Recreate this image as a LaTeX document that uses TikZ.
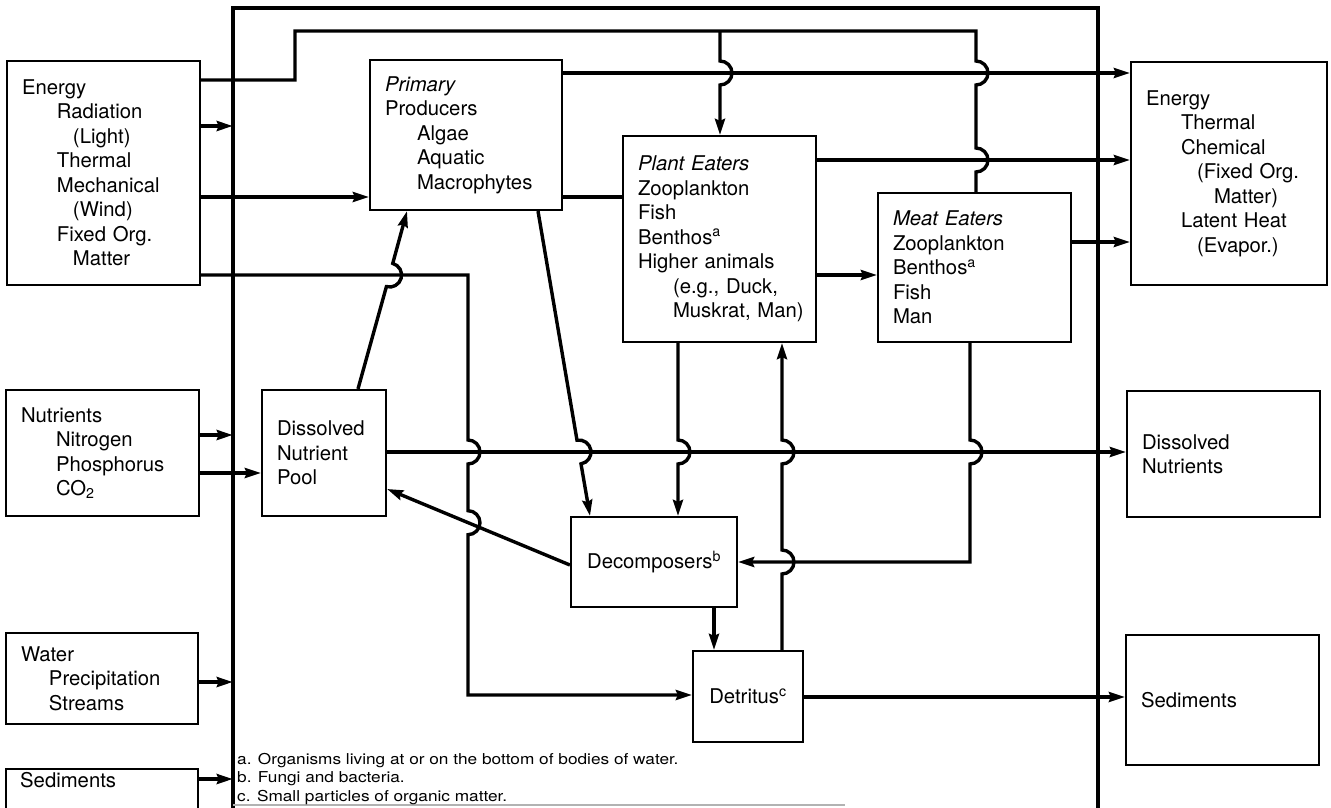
\documentclass[tikz,border=0pt]{standalone}
\usepackage{fontspec}
\setmainfont{TeX Gyre Heros}
\newfontfamily\notefont[FakeStretch=1.15]{TeX Gyre Heros}
\usetikzlibrary{arrows.meta}
\newcommand{\ind}[1]{\hspace*{#1pt}}

\begin{document}
\begin{tikzpicture}[x=1pt,y=-1pt,
  box/.style={draw, line width=2.2pt, inner xsep=15pt, inner ysep=0pt, align=left,
    font=\fontsize{20.3}{24.5}\selectfont},
  cbox/.style={draw, line width=2.2pt, inner sep=0pt, align=center,
    font=\fontsize{20.3}{24.5}\selectfont},
  conn/.style={line width=3.4pt},
  arr/.style={conn, -{Stealth[length=16pt,width=10pt,inset=2pt]}},
  % bump of a vertical line (going down / going up) over a crossing line at height #2
  jd/.style 2 args={insert path={-- (#1,#2-12) arc[start angle=90,end angle=-90,radius=12pt]}},
  ju/.style 2 args={insert path={-- (#1,#2+12) arc[start angle=-90,end angle=90,radius=12pt]}},
  note/.style={anchor=base west, inner sep=0pt, font=\notefont\fontsize{15}{18.5}\selectfont},
]
\useasboundingbox (0,0) rectangle (1331,808);
\fill[white] (0,0) rectangle (1331,808);
\clip (0,0) rectangle (1331,808);

% ---------- system boundary ----------
\node[inner sep=0pt, minimum width=865pt, minimum height=800pt] (lake) at (665.5,408) {};
\draw[line width=3.6pt] (lake.south west) -- (lake.north west) -- (lake.north east) -- (lake.south east);
\draw[line width=1.5pt, gray!60] (lake.south west |- 0,805) -- (845,805);

% ---------- inputs ----------
\node[box, text width=163pt, minimum height=224pt] (energyIn) at (103.5,173)
  {Energy\\ \ind{35}Radiation\\ \ind{51}(Light)\\ \ind{35}Thermal\\ \ind{35}Mechanical\\
   \ind{51}(Wind)\\ \ind{35}Fixed~Org.\\ \ind{51}Matter};
\node[box, text width=163pt, minimum height=126pt] (nutrIn) at (102.5,453)
  {Nutrients\\ \ind{35}Nitrogen\\ \ind{35}Phosphorus\\ \ind{35}CO\textsubscript{2}};
\node[box, text width=162pt, minimum height=91pt] (waterIn) at (102,678.5)
  {Water\\ \ind{28}Precipitation\\ \ind{28}Streams};
\node[box, text width=162pt, minimum height=71pt] (sedIn) at (102,804.5) {};
\node[anchor=base west, inner sep=0pt, font=\fontsize{20.3}{24.5}\selectfont] (sedInText) at (20,787) {Sediments};

% ---------- compartments ----------
\node[box, text width=162pt, minimum height=150pt] (primary) at (466,135)
  {\textit{Primary}\\ Producers\\ \ind{32}Algae\\ \ind{32}Aquatic\\ \ind{32}Macrophytes};
\node[box, text width=163pt, minimum height=206pt] (plant) at (719.5,239)
  {\textit{Plant~Eaters}\\ Zooplankton\\ Fish\\ Benthos\textsuperscript{a}\\ Higher~animals\\
   \ind{35}(e.g.,~Duck,\\ \ind{35}Muskrat,~Man)};
\node[box, text width=163pt, minimum height=149pt] (meat) at (974.5,267.5)
  {\textit{Meat~Eaters}\\ Zooplankton\\ Benthos\textsuperscript{a}\\ Fish\\ Man};
\node[box, text width=94pt, minimum height=126pt] (pool) at (324,453)
  {Dissolved\\ Nutrient\\ Pool};
\node[cbox, minimum width=166pt, minimum height=90pt] (decomp) at (654,562)
  {Decomposers\textsuperscript{b}};
\node[cbox, minimum width=110pt, minimum height=91pt] (detritus) at (748,696.5)
  {Detritus\textsuperscript{c}};

% ---------- outputs ----------
\node[box, text width=166pt, minimum height=223pt] (energyOut) at (1229,173.5)
  {Energy\\ \ind{35}Thermal\\ \ind{35}Chemical\\ \ind{51}(Fixed~Org.\\ \ind{68}Matter)\\
   \ind{35}Latent~Heat\\ \ind{51}(Evapor.)};
\node[box, text width=163pt, minimum height=126pt] (dissOut) at (1223.5,454)
  {Dissolved\\ Nutrients};
\node[box, text width=163pt, minimum height=130pt] (sedOut) at (1222.5,700)
  {Sediments};

% ---------- footnotes ----------
\node[note] (fnA) at (237,764) {a. Organisms living at or on the bottom of bodies of water.};
\node[note] (fnB) at (237,782) {b. Fungi and bacteria.};
\node[note] (fnC) at (237,801) {c. Small particles of organic matter.};

% ---------- flows ----------
\coordinate (split) at (720,31);
% energy over the top to the consumers
\draw[conn] (energyIn.east |- 0,80) -- (295,80) -- (295,31) -- (976,31)
  [jd={976}{73}] [jd={976}{160}] -- (976,0 |- meat.north);
\draw[arr] (split) [jd={720}{73}] -- (split |- plant.north);
% energy inputs
\draw[arr] (energyIn.east |- 0,126) -- (lake.west |- 0,126);
\draw[arr] (energyIn.east |- 0,197) -- (primary.west |- 0,197);
\draw[arr] (energyIn.east |- 0,275) -- (468,275) [jd={468}{452}] [jd={468}{522.7}]
  -- (468,695) -- (detritus.west |- 0,695);
% nutrients, water, sediments in
\draw[arr] (nutrIn.east |- 0,435) -- (lake.west |- 0,435);
\draw[arr] (nutrIn.east |- 0,473) -- (pool.west |- 0,473);
\draw[arr] (waterIn.east |- 0,682) -- (lake.west |- 0,682);
\draw[arr] (sedIn.east |- 0,779) -- (lake.west |- 0,779);
% producers
\draw[arr] (358,0 |- pool.north) -- (386.4,286.6)
  arc[start angle=254.7,end angle=434.7,radius=12pt] -- (407,0 |- primary.south);
\draw[conn] (primary.east |- 0,197) -- (plant.west |- 0,197);
\draw[arr] (primary.east |- 0,73) -- (energyOut.west |- 0,73);
\draw[arr] (538,0 |- primary.south) -- (577,440.2)
  arc[start angle=99.6,end angle=-80.4,radius=12pt] -- (590,0 |- decomp.north);
% consumers
\draw[arr] (plant.east |- 0,160) -- (energyOut.west |- 0,160);
\draw[arr] (plant.east |- 0,275) -- (meat.west |- 0,275);
\draw[arr] (meat.east |- 0,242) -- (energyOut.west |- 0,242);
\draw[arr] (678,0 |- plant.south) [jd={678}{452}] -- (678,0 |- decomp.north);
\draw[arr] (970,0 |- meat.south) [jd={970}{452}] -- (970,562) -- (decomp.east);
% decomposition loop
\draw[arr] (decomp.west |- 0,565) -- (pool.east |- 0,489);
\draw[arr] (714,0 |- decomp.south) -- (714,0 |- detritus.north);
\draw[arr] (782,0 |- detritus.north) [ju={782}{562}] [ju={782}{452}] -- (782,0 |- plant.south);
% outflows
\draw[arr] (pool.east |- 0,452) -- (dissOut.west |- 0,452);
\draw[arr] (detritus.east |- 0,697) -- (sedOut.west |- 0,697);
\end{tikzpicture}
\end{document}
